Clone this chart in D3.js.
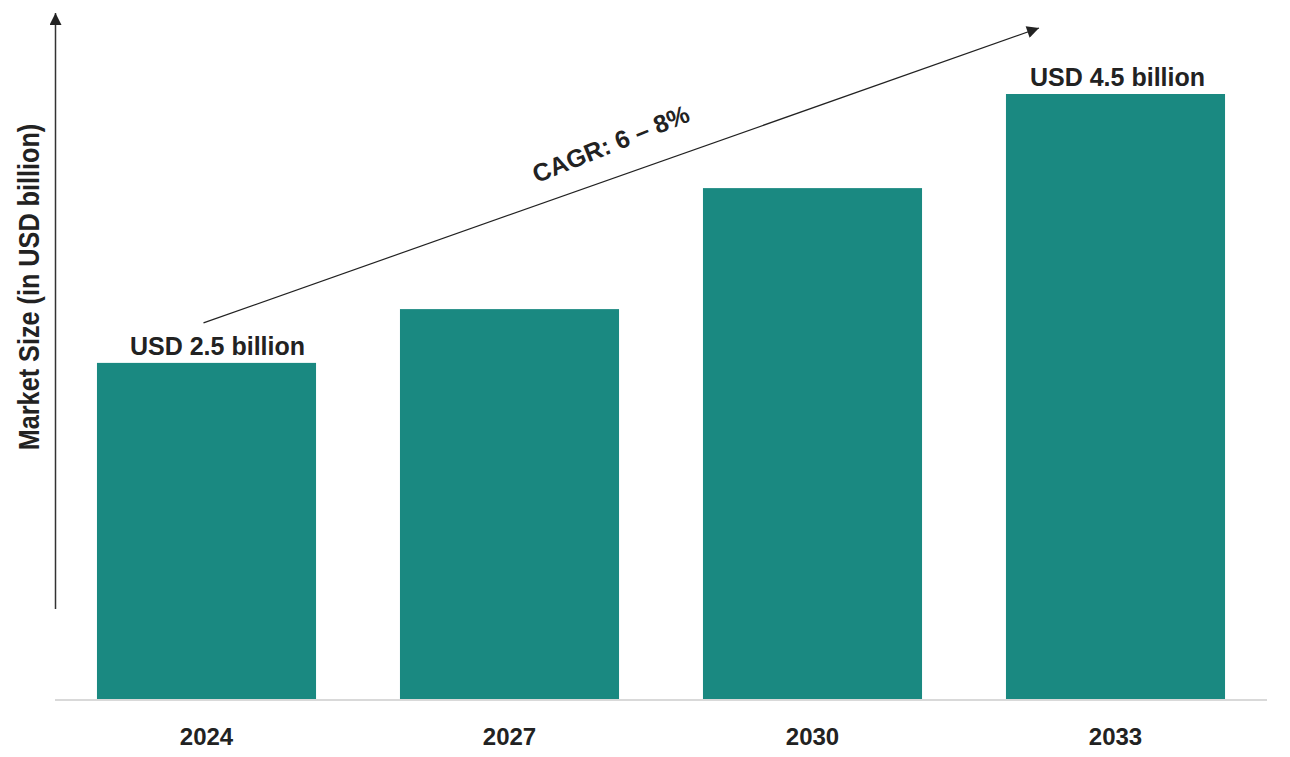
<!DOCTYPE html>
<html>
<head>
<meta charset="utf-8">
<script src="https://cdn.jsdelivr.net/npm/d3@7"></script>
<style>
  html, body { margin: 0; padding: 0; background: #fff; }
  svg { display: block; font-family: "Liberation Sans", Arial, sans-serif; }
</style>
</head>
<body>
<div id="chart"></div>
<script>
// données
const years = ['2024', '2027', '2030', '2033'];
const marketSize = [2.5, 2.9, 3.8, 4.5];
const valueLabels = ['USD 2.5 billion', '', '', 'USD 4.5 billion'];
const yTitle = 'Market Size (in USD billion)';
const cagrLabel = 'CAGR: 6 – 8%';

const width = 1290, height = 757;
const baseY = 699;
const barColor = '#1a8981';
const textColor = '#222';

const svg = d3.select('#chart')
    .append('svg')
    .attr('width', width)
    .attr('height', height);

const defs = svg.append('defs');
defs.append('marker')
    .attr('id', 'arrow')
    .attr('viewBox', '0 0 10 10')
    .attr('refX', 10)
    .attr('refY', 5)
    .attr('markerUnits', 'userSpaceOnUse')
    .attr('markerWidth', 14)
    .attr('markerHeight', 12)
    .attr('orient', 'auto')
    .append('path')
    .attr('d', 'M0,0 L10,5 L0,10 Z')
    .attr('fill', textColor);

// scales
const x = d3.scaleBand()
    .domain(years)
    .range([55, 1267])
    .paddingInner(0.277)
    .paddingOuter(0.1385);

const y = d3.scaleLinear()
    .domain([0, 4.5])
    .range([baseY, 94]);

// barres
svg.selectAll('rect.bar')
    .data(years)
    .enter()
    .append('rect')
    .attr('class', 'bar')
    .attr('x', d => x(d))
    .attr('y', (d, i) => y(marketSize[i]))
    .attr('width', x.bandwidth())
    .attr('height', (d, i) => y(0) - y(marketSize[i]))
    .attr('fill', barColor);

// ligne de base (axe x)
const xAxis = svg.append('g')
    .attr('transform', `translate(0,${baseY + 1})`)
    .call(d3.axisBottom(x).tickSize(0).tickPadding(28));
xAxis.select('.domain')
    .attr('stroke', '#d9d9d9')
    .attr('stroke-width', 2)
    .attr('d', 'M55,0H1267');
xAxis.selectAll('text')
    .attr('fill', textColor)
    .style('font-size', '24px')
    .style('font-weight', 'bold')
    .style('font-family', '"Liberation Sans", Arial, sans-serif');

// axe y avec flèche
svg.append('line')
    .attr('x1', 55.5).attr('y1', 609)
    .attr('x2', 55.5).attr('y2', 13)
    .attr('stroke', '#333')
    .attr('stroke-width', 1.5)
    .attr('marker-end', 'url(#arrow)');

svg.append('text')
    .attr('transform', 'translate(39,287) rotate(-90) scale(0.87,1)')
    .attr('text-anchor', 'middle')
    .attr('fill', textColor)
    .style('font-size', '29px')
    .style('font-weight', 'bold')
    .text(yTitle);

// étiquettes de valeur
svg.selectAll('text.value')
    .data(years)
    .enter()
    .append('text')
    .attr('class', 'value')
    .attr('x', (d, i) => x(d) + x.bandwidth() / 2 + (i === 0 ? 11 : 2))
    .attr('y', (d, i) => y(marketSize[i]) - 8)
    .attr('text-anchor', 'middle')
    .attr('fill', textColor)
    .style('font-size', '25px')
    .style('font-weight', 'bold')
    .text((d, i) => valueLabels[i]);

// flèche CAGR
const x0 = x(years[0]) + x.bandwidth() / 2 - 3, y0 = y(marketSize[0]) - 40;
const x1 = x(years[3]) + 33, y1 = y(marketSize[3]) - 66;
svg.append('line')
    .attr('x1', x0).attr('y1', y0)
    .attr('x2', x1).attr('y2', y1)
    .attr('stroke', textColor)
    .attr('stroke-width', 1.2)
    .attr('marker-end', 'url(#arrow)');

svg.append('text')
    .attr('transform', 'translate(614,152) rotate(-22)')
    .attr('text-anchor', 'middle')
    .attr('fill', textColor)
    .style('font-size', '25px')
    .style('font-weight', 'bold')
    .text(cagrLabel);
</script>
</body>
</html>
